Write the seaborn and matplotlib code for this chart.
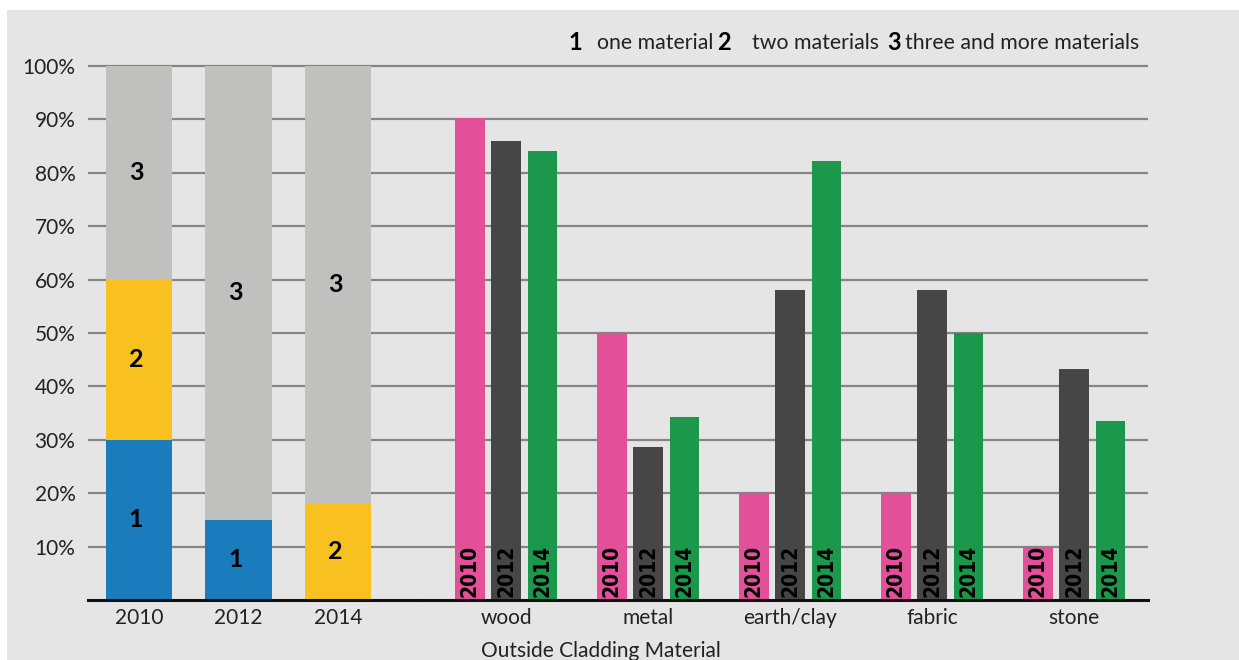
import numpy as np
import pandas as pd
import matplotlib
matplotlib.use("Agg")
import matplotlib.pyplot as plt
from matplotlib.patches import Rectangle
import seaborn as sns

# ---------------- data ----------------
years = ["2010", "2012", "2014"]
one_material = [30, 15, 0]
two_materials = [30, 0, 18]
three_materials = [40, 85, 82]

materials = ["wood", "metal", "earth/clay", "fabric", "stone"]
share_2010 = [90.3, 50, 20, 20, 10]
share_2012 = [85.9, 28.7, 58, 58, 43.2]
share_2014 = [84.1, 34.3, 82.3, 50, 33.5]

y_ticks = [10, 20, 30, 40, 50, 60, 70, 80, 90, 100]
y_tick_labels = ["10%", "20%", "30%", "40%", "50%", "60%", "70%", "80%", "90%", "100%"]
legend_numbers = ["1", "2", "3"]
legend_texts = ["one material", "two materials", "three and more materials"]
x_title = "Outside Cladding Material"

# ---------------- style ----------------
sns.set_theme(style="white")
FONT = ["Lato", "DejaVu Sans"]
plt.rcParams["font.family"] = FONT

BG = "#e5e5e5"
GRID = "#858585"
C_BLUE, C_YELLOW, C_LGRAY = "#1a7bbd", "#f9c11f", "#c0c0be"
C_PINK, C_DARK, C_GREEN = "#e2509a", "#464646", "#1b984b"

W, H = 1239, 660
fig = plt.figure(figsize=(W / 100, H / 100), dpi=100)
fig.patch.set_facecolor("white")
bg = Rectangle((7 / W, 0), 1 - 7 / W, 1 - 10 / H, transform=fig.transFigure,
               facecolor=BG, edgecolor="none", zorder=-10)
fig.patches.append(bg)

px_per_unit = (600 - 66) / 100.0
ytop = 102
bottom_f = (H - 600) / H
height_f = ytop * px_per_unit / H

ax1 = fig.add_axes([88 / W, bottom_f, (420 - 88) / W, height_f])
ax2 = fig.add_axes([420 / W, bottom_f, (1148 - 420) / W, height_f])

for ax in (ax1, ax2):
    ax.set_facecolor("none")
    ax.set_ylim(0, ytop)
    for s in ("top", "right", "left"):
        ax.spines[s].set_visible(False)
    ax.spines["bottom"].set_color("#111111")
    ax.spines["bottom"].set_linewidth(2.2)
    ax.spines["bottom"].set_zorder(5)

# ---------------- left: stacked shares ----------------
x1 = np.arange(len(years))
bw = 0.673
one = np.array(one_material)
two = np.array(two_materials)
three = np.array(three_materials)
ax1.bar(x1, one, width=bw, color=C_BLUE, linewidth=0, zorder=2)
ax1.bar(x1, two, width=bw, bottom=one, color=C_YELLOW, linewidth=0, zorder=2)
ax1.bar(x1, three, width=bw, bottom=one + two, color=C_LGRAY, linewidth=0, zorder=2)
for i in range(len(years)):
    base = 0
    for val, lab in zip((one[i], two[i], three[i]), legend_numbers):
        if val > 0:
            ax1.text(x1[i] - 0.03, base + val / 2, lab, ha="center", va="center",
                     fontsize=18, fontweight="bold", color="black", zorder=3)
        base += val
ax1.set_xlim(-0.5126, -0.5126 + 332 / 99.5)
ax1.set_xticks(x1)
ax1.set_xticklabels(years)

# ---------------- right: grouped by material ----------------
df = pd.DataFrame({
    "material": materials * 3,
    "year": sum([[y] * len(materials) for y in years], []),
    "share": share_2010 + share_2012 + share_2014,
})
sns.barplot(data=df, x="material", y="share", hue="year", order=materials,
            hue_order=years, palette=[C_PINK, C_DARK, C_GREEN], width=0.77, gap=0.18,
            saturation=1, ax=ax2, legend=False, zorder=2, errorbar=None, linewidth=0)
ax2.set_xlim(-0.606, -0.606 + 728 / 142.0)
ax2.set_xlabel("")
ax2.set_ylabel("")

for cont, yr in zip(ax2.containers, years):
    for rect in cont:
        cx = rect.get_x() + rect.get_width() / 2
        ax2.text(cx, 0.5, yr, rotation=90, ha="center", va="bottom",
                 fontsize=15, fontweight="bold", fontstretch="condensed",
                 color="black", zorder=3, family=["DejaVu Sans"])

for ax in (ax1, ax2):
    ax.set_ylim(0, ytop)
    ax.set_yticks(y_ticks)
    for yv in y_ticks:
        ax.axhline(yv, color=GRID, lw=1.6, zorder=0.5)
    ax.tick_params(axis="both", length=0, labelsize=15, colors="#222222")
    ax.tick_params(axis="x", pad=6)
ax1.set_yticklabels(y_tick_labels)
ax1.tick_params(axis="y", pad=9)
ax2.set_yticklabels([])

# x title (partially cut off at the bottom as in the source)
fig.text(601 / W, 1 - 651 / H, x_title, ha="center", va="center", fontsize=15,
         color="#222222")

# ---------------- legend strip ----------------
leg_y = 1 - 43 / H
num_x = [568, 717, 887]
txt_x = [597, 752, 905]
for n, t, nx, tx in zip(legend_numbers, legend_texts, num_x, txt_x):
    fig.text(nx / W, leg_y, n, ha="left", va="center", fontsize=17,
             fontweight="bold", color="black")
    fig.text(tx / W, leg_y, t, ha="left", va="center", fontsize=15.3, color="#222222")

fig.savefig("out.png", dpi=100, facecolor=fig.get_facecolor())
